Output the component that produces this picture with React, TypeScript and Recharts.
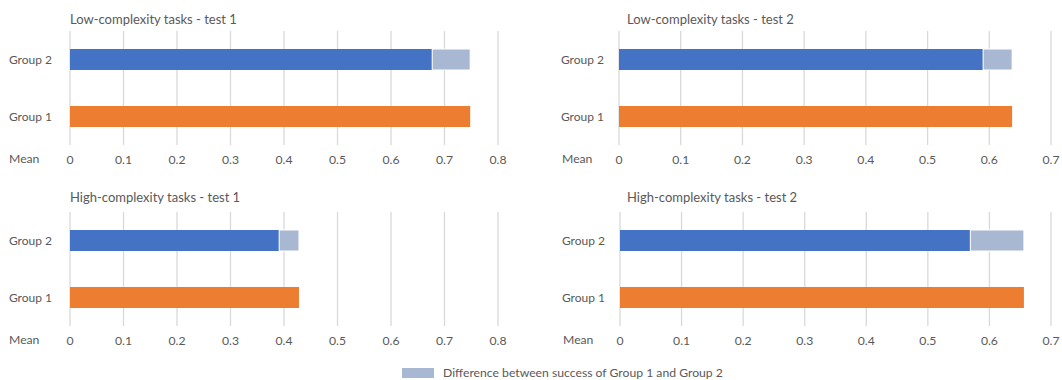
import React from "react";
import { BarChart, Bar, XAxis, YAxis, CartesianGrid } from "recharts";

const categories = ["Group 2", "Group 1"];
const panelTitles = [
    "Low-complexity tasks - test 1",
    "Low-complexity tasks - test 2",
    "High-complexity tasks - test 1",
    "High-complexity tasks - test 2"
];
const group1Success = [0.748, 0.637, 0.428, 0.656];
const group2Success = [0.677, 0.59, 0.391, 0.569];
const ticksTo08 = [0, 0.1, 0.2, 0.3, 0.4, 0.5, 0.6, 0.7, 0.8];
const ticksTo07 = [0, 0.1, 0.2, 0.3, 0.4, 0.5, 0.6, 0.7];
const panelTicks = [ticksTo08, ticksTo07, ticksTo08, ticksTo07];
const legendLabel = "Difference between success of Group 1 and Group 2";

const FONT = "Lato, 'Open Sans', sans-serif";
const TEXT = "#595959";
const BLUE = "#4472C4";
const ORANGE = "#ED7D31";
const DIFF = "#A9B8D2";
const FS = 12.2;

// box of each panel: left, top, width, y-axis width, title offset
const boxes = [
    { left: 0, top: 0, width: 531, axisW: 70, titleX: 70 },
    { left: 531, top: 0, width: 562, axisW: 88, titleX: 96 },
    { left: 0, top: 181, width: 531, axisW: 70, titleX: 70 },
    { left: 531, top: 181, width: 562, axisW: 89, titleX: 96 }
];

const Panel = ({ i }: { i: number }) => {
    const b = boxes[i];
    const ticks = panelTicks[i];
    const data = [
        { group: categories[0], g2: group2Success[i], diff: +(group1Success[i] - group2Success[i]).toFixed(3) },
        { group: categories[1], g1: group1Success[i] }
    ];
    const rightPad = i % 2 === 0 ? 33 : 42;
    return (
        <div style={{ position: "absolute", left: b.left, top: b.top, width: b.width, height: 175 }}>
            <div
                style={{
                    position: "absolute",
                    left: b.titleX,
                    top: 11 - (i > 1 ? 3 : 0),
                    fontSize: 13,
                    color: TEXT,
                    fontFamily: FONT,
                    whiteSpace: "nowrap"
                }}
            >
                {panelTitles[i]}
            </div>
            <div
                style={{
                    position: "absolute",
                    left: b.axisW - (i % 2 === 0 ? 61 : 57),
                    top: 151,
                    fontSize: FS,
                    color: TEXT,
                    fontFamily: FONT
                }}
            >
                Mean
            </div>
            <BarChart
                layout="vertical"
                width={b.width}
                height={170}
                data={data}
                margin={{ top: 31, right: rightPad, left: 0, bottom: 0 }}
                barCategoryGap={0}
            >
                <CartesianGrid horizontal={false} stroke="#D9D9D9" strokeWidth={1.3} />
                <XAxis
                    type="number"
                    domain={[0, ticks[ticks.length - 1]]}
                    ticks={ticks}
                    axisLine={false}
                    tickLine={false}
                    tickSize={0}
                    tickMargin={10}
                    height={25}
                    tick={{ fill: TEXT, fontSize: FS, fontFamily: FONT }}
                />
                <YAxis
                    type="category"
                    dataKey="group"
                    width={b.axisW}
                    axisLine={false}
                    tickLine={false}
                    tickSize={0}
                    tickMargin={i % 2 === 0 ? 18 : 15}
                    tick={{ fill: TEXT, fontSize: 12, fontFamily: FONT }}
                />
                <Bar dataKey="g2" stackId="s" fill={BLUE} barSize={21} isAnimationActive={false} />
                <Bar dataKey="diff" stackId="s" fill={DIFF} stroke="#fff" strokeWidth={1} barSize={21} isAnimationActive={false} />
                <Bar dataKey="g1" stackId="s" fill={ORANGE} barSize={21} isAnimationActive={false} />
            </BarChart>
        </div>
    );
};

export default function App() {
    return (
        <div
            style={{
                position: "absolute",
                left: 0,
                top: 0,
                width: 1062,
                height: 380,
                overflow: "hidden",
                background: "#fff"
            }}
        >
            {[0, 1, 2, 3].map((i) => (
                <Panel key={i} i={i} />
            ))}
            <div
                style={{
                    position: "absolute",
                    left: 402,
                    top: 368,
                    width: 32,
                    height: 10,
                    background: DIFF
                }}
            />
            <div
                style={{
                    position: "absolute",
                    left: 443,
                    top: 365,
                    fontSize: 12.2,
                    color: TEXT,
                    fontFamily: FONT,
                    whiteSpace: "nowrap"
                }}
            >
                {legendLabel}
            </div>
        </div>
    );
}
